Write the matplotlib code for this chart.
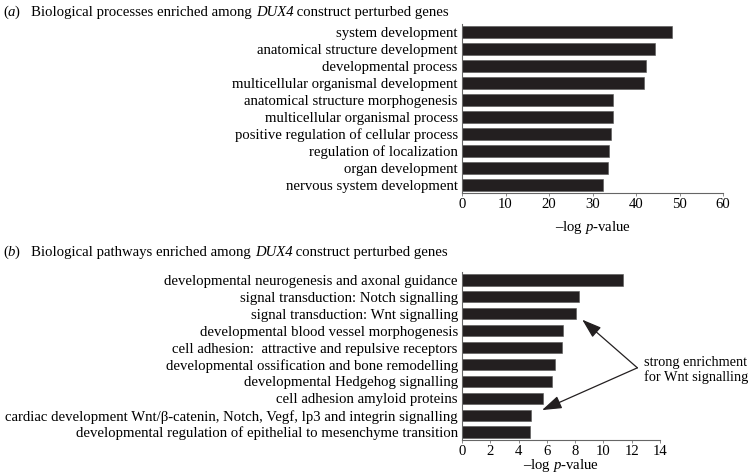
import numpy as np
import matplotlib
matplotlib.use('Agg')
from matplotlib import pyplot as plt

plt.rcParams['font.family'] = ['Liberation Serif', 'DejaVu Serif']
plt.rcParams['mathtext.fontset'] = 'custom'
plt.rcParams['mathtext.rm'] = 'Liberation Serif'
plt.rcParams['mathtext.it'] = 'Liberation Serif:italic'

# panel (a): biological processes
proc_terms = ['system development', 'anatomical structure development',
              'developmental process', 'multicellular organismal development',
              'anatomical structure morphogenesis', 'multicellular organismal process',
              'positive regulation of cellular process', 'regulation of localization',
              'organ development', 'nervous system development']
proc_vals = [48.3, 44.4, 42.4, 41.9, 34.8, 34.6, 34.2, 33.9, 33.6, 32.4]
proc_ticks = [0, 10, 20, 30, 40, 50, 60]

# panel (b): biological pathways
path_terms = ['developmental neurogenesis and axonal guidance',
              'signal transduction: Notch signalling',
              'signal transduction: Wnt signalling',
              'developmental blood vessel morphogenesis',
              'cell adhesion:  attractive and repulsive receptors',
              'developmental ossification and bone remodelling',
              'developmental Hedgehog signalling',
              'cell adhesion amyloid proteins',
              'cardiac development Wnt/\u03b2-catenin, Notch, Vegf, lp3 and integrin signalling',
              'developmental regulation of epithelial to mesenchyme transition']
path_vals = [11.4, 8.3, 8.06, 7.16, 7.06, 6.57, 6.37, 5.71, 4.91, 4.78]
path_ticks = [0, 2, 4, 6, 8, 10, 12, 14]

bar_color = '#231f20'
fs = 10.65

fig = plt.figure(figsize=(7.53, 4.74), dpi=100)


def panel(rect, terms, vals, ticks):
  ax = fig.add_axes(rect)
  y = np.arange(len(terms))
  ax.barh(y, vals, height=0.66, color=bar_color, edgecolor='#555555', linewidth=0.4)
  ax.set_ylim(len(terms) - 0.53, -0.47)
  ax.set_xlim(ticks[0], ticks[-1])
  ax.set_xticks(ticks)
  ax.set_yticks(y)
  ax.set_yticklabels(terms, fontsize=fs)
  ax.tick_params(axis='y', length=0, pad=3)
  ax.tick_params(axis='x', length=2, width=0.6, color='#777777', labelsize=fs, pad=1.5)
  for s in ['top', 'right']:
    ax.spines[s].set_visible(False)
  for s in ['left', 'bottom']:
    ax.spines[s].set_color('#666666')
    ax.spines[s].set_linewidth(0.8)
  return ax


def xlabel(xc, yc):
  fig.text(xc/753, 1 - yc/474, '\u2013log $\\it{p}$-value', fontsize=fs, ha='center', va='center')


def title_line(yc, pieces):
  # title pieces set one after another, mixing roman and italic
  prev = fig.text(3/753, 1 - yc/474, pieces[0][0], fontsize=fs, style=pieces[0][1],
                  va='center', ha='left')
  for s, st in pieces[1:]:
    prev = plt.annotate(s, xy=(1, 0), xycoords=prev, xytext=(0, 0), textcoords='offset points',
                        fontsize=fs, style=st, va='bottom', ha='left')
  return prev


axa = panel([462/753, 1 - 193/474, 261/753, 169/474], proc_terms, proc_vals, proc_ticks)
xlabel(592.5, 227)

axb = panel([462/753, 1 - 440/474, 198/753, 168/474], path_terms, path_vals, path_ticks)
xlabel(561, 465)

title_line(12, [('(', 'normal'), ('a', 'italic'), (')   Biological processes enriched among ', 'normal'),
                ('DUX4', 'italic'), (' construct perturbed genes', 'normal')])
title_line(252, [('(', 'normal'), ('b', 'italic'), (')   Biological pathways enriched among ', 'normal'),
                 ('DUX4', 'italic'), (' construct perturbed genes', 'normal')])

# annotation with two arrows
txt_xy = (12.4, 5.2)
for tip in [(8.5, 2.35), (5.66, 7.7)]:
  axb.annotate('', xy=tip, xytext=txt_xy, annotation_clip=False,
               arrowprops=dict(arrowstyle='-|>,head_length=1.2,head_width=0.4',
                               color='#231f20', lw=0.9, shrinkA=0, shrinkB=0))
axb.text(12.88, 5.35, 'strong enrichment\nfor Wnt signalling', fontsize=10.3,
         ha='left', va='center', linespacing=1.1, clip_on=False)

fig.savefig('out.png', dpi=100)
